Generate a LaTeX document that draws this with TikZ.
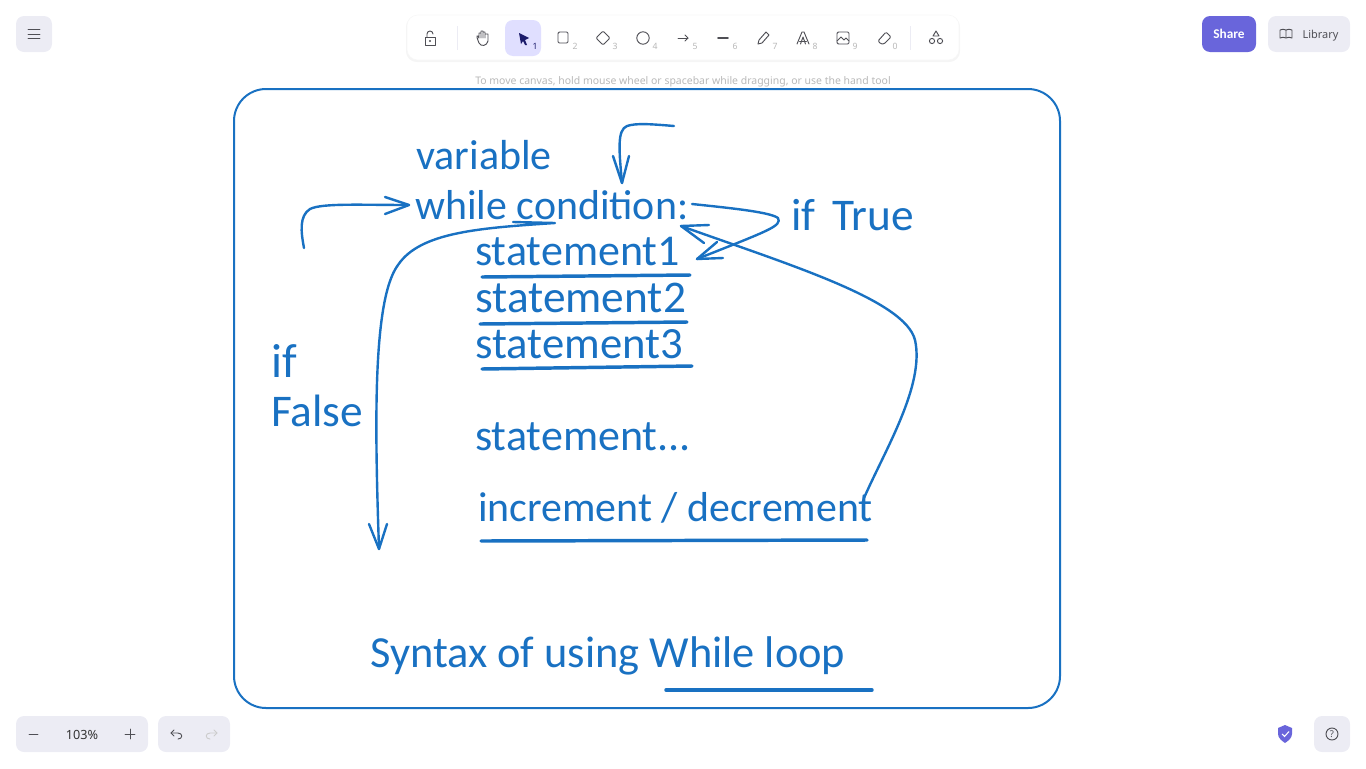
\documentclass[tikz,border=0pt]{standalone}
\usepackage{fontspec}
\setmainfont{Noto Sans}
\newfontfamily\handfont{Carlito}
\definecolor{inkblue}{HTML}{1971C2}
\definecolor{panelgray}{HTML}{ECECF4}
\definecolor{uigray}{HTML}{4F4F55}
\definecolor{keygray}{HTML}{B8B8B8}
\definecolor{violet}{HTML}{6965DB}
\definecolor{selectbg}{HTML}{E0DFFF}
\definecolor{pointerblue}{HTML}{1B1B6B}
\tikzset{
	hand/.style={anchor=base west,inner sep=0pt,text=inkblue,font=\handfont\fontsize{#1}{#1}\selectfont},
	stroke/.style={draw=inkblue,line width=1.8pt,line cap=round,line join=round},
	underl/.style={draw=inkblue,line width=2.6pt,line cap=round},
	uibtn/.style={fill=panelgray,rounded corners=6pt},
	icon/.style={draw=uigray,line width=0.7pt,line cap=round,line join=round},
	keynum/.style={text=keygray,font=\fontsize{6.5}{7}\selectfont,inner sep=0pt}
}
\begin{document}
\begin{tikzpicture}[x=0.75pt,y=-0.75pt]
	\useasboundingbox (0,0) rectangle (1366,768);
	% frame
	\draw [draw=inkblue,line width=1.5pt,rounded corners=24pt] (234,89) rectangle (1060,708);
	% texts
	\node [hand=31.5] (variable) at (416,169) {variable};
	\node [hand=31.4] (whilecond) at (415,219) {while condition:};
	\node [hand=33] (stmta) at (475,265) {statement1};
	\node [hand=34] (stmtb) at (475,312) {statement2};
	\node [hand=33.5] (stmtc) at (475,358) {statement3};
	\node [hand=33] (stmtd) at (475,450) {statement...};
	\node [hand=31.4] (incr) at (478,521) {increment / decrement};
	\node [hand=34] (iftrue) at (791,230) {if\hspace{12.5pt}True};
	\node [hand=36] (ifword) at (271,377) {if};
	\node [hand=34] (falseword) at (271,426) {False};
	\node [hand=33.3] (title) at (370,667) {Syntax of using While loop};
	% underlines
	\draw [underl] (482,277)-- (690,275);
	\draw [underl] (480,324)-- (687,322);
	\draw [underl] (482,369)-- (692,366);
	\draw [underl] (481,541)-- (867,540);
	\draw [underl] (666,690)-- (872,690);
	% arrow from variable
	\coordinate (topstart) at (674,126);
	\coordinate (toptip) at (622,183);
	\draw [stroke] (topstart) .. controls (650,124) and (636,123) .. (627,126) .. controls (617,130) and (619,150) .. (toptip);
	\draw [stroke] (613,156)-- (toptip)-- (629,156);
	% arrow into while
	\coordinate (leftstart) at (304,248);
	\coordinate (lefttip) at (409,205);
	\draw [stroke] (leftstart) .. controls (301,232) and (299,216) .. (310,209) .. controls (322,203) and (360,205) .. (lefttip);
	\draw [stroke] (385,197)-- (lefttip)-- (385,214);
	% if True
	\coordinate (truestart) at (692,204);
	\coordinate (truetip) at (697,259);
	\draw [stroke] (truestart) .. controls (730,208) and (770,212) .. (778,218) .. controls (782,226) and (770,230) .. (truetip);
	\draw [stroke] (717,242)-- (truetip)-- (723,258);
	% if False
	\coordinate (falsestart) at (555,223);
	\coordinate (falsetip) at (379,549);
	\draw [stroke] (513,222)-- (falsestart) .. controls (480,228) and (420,232) .. (398,265) .. controls (372,300) and (375,430) .. (falsetip);
	\draw [stroke] (369,524)-- (falsetip)-- (387,524);
	% loop back
	\coordinate (backstart) at (864,498);
	\coordinate (backtip) at (681,226);
	\draw [stroke] (backstart) .. controls (885,450) and (925,385) .. (915,340) .. controls (905,300) and (790,265) .. (backtip);
	\draw [stroke] (709,225)-- (backtip)-- (704,243);
	% toolbar
	\fill [black!4,rounded corners=8pt] (406,16) rectangle (960,62);
	\draw [fill=white,draw=black!3,rounded corners=8pt] (407,15) rectangle (959,60);
	\draw [draw=panelgray] (457,26)-- (457,50);
	\draw [draw=panelgray] (910,26)-- (910,50);
	\fill [selectbg,rounded corners=6pt] (505,20) rectangle (541,56);
	% lock
	\draw [icon] (425,37) rectangle (435,45);
	\draw [icon] (427,37) -- (427,34) arc (180:360:3);
	\fill [uigray] (430,41) circle (1.1);
	% hand
	\draw [icon] (479,43) .. controls (477,38) and (476,35) .. (478,36) -- (479,38) -- (479,33) -- (481,33) -- (481,38) -- (481,31) -- (483,31) -- (483,38) -- (483,32) -- (485,32) -- (485,38) -- (485,34) -- (488,34) -- (488,41) .. controls (487,46) and (481,47) .. (479,43);
	% pointer
	\fill [pointerblue] (519,33) -- (529,38) -- (525,40) -- (527,45) -- (525,45) -- (523,41) -- (521,44) -- cycle;
	% rectangle, diamond, circle
	\draw [icon,rounded corners=1pt] (558,32) rectangle (568,43);
	\draw [icon,rounded corners=1pt] (603,31) -- (610,38) -- (603,45) -- (596,38) -- cycle;
	\draw [icon] (643,38) circle (6.2);
	% arrow, line
	\draw [icon] (678,38) -- (688,38);
	\draw [icon] (685,35) -- (688,38) -- (685,41);
	\draw [icon,line width=1.2pt] (718,38) -- (728,38);
	% pencil
	\draw [icon] (758,44) -- (759,40) -- (766,32) -- (769,35) -- (762,43) -- cycle;
	% font
	\draw [icon] (797,44) -- (802,32) -- (804,32) -- (809,44);
	\draw [icon] (800.5,44) -- (803,37) -- (805.5,44);
	\draw [icon] (799.5,41) -- (806.5,41);
	% image
	\draw [icon,rounded corners=1pt] (837,32) rectangle (849,44);
	\draw [icon] (837,41) -- (841,37) -- (844,40) -- (846,38) -- (849,41);
	% eraser
	\draw [icon,rounded corners=1pt] (878,41) -- (886,32) -- (891,37) -- (884,44) -- (881,44) -- cycle;
	% library of shapes
	\draw [icon] (936,31) -- (939,36) -- (933,36) -- cycle;
	\draw [icon] (932,41) circle (2.6);
	\draw [icon] (940,41) circle (2.6);
	% key numbers
	\node [keynum,text=pointerblue] (keya) at (535,46) {1};
	\node [keynum] (keyb) at (575,46) {2};
	\node [keynum] (keyc) at (615,46) {3};
	\node [keynum] (keyd) at (655,46) {4};
	\node [keynum] (keye) at (695,46) {5};
	\node [keynum] (keyf) at (735,46) {6};
	\node [keynum] (keyg) at (775,46) {7};
	\node [keynum] (keyh) at (815,46) {8};
	\node [keynum] (keyi) at (855,46) {9};
	\node [keynum] (keyj) at (895,46) {0};
	% hint
	\node [text=keygray,inner sep=0pt,font=\fontsize{7.85}{10}\selectfont] (hint) at (683,81.5) {To move canvas, hold mouse wheel or spacebar while dragging, or use the hand tool};
	% menu button
	\fill [uibtn] (16,16) rectangle (52,52);
	\draw [icon] (28,29.5) -- (40,29.5);
	\draw [icon] (28,34) -- (40,34);
	\draw [icon] (28,38.5) -- (40,38.5);
	% share, library
	\fill [violet,rounded corners=6pt] (1202,16) rectangle (1256,52);
	\node [text=white,inner sep=0pt,anchor=base,font=\handfont\fontsize{10}{10}\selectfont\bfseries] (share) at (1229,38.5) {Share};
	\fill [uibtn] (1268,16) rectangle (1350,52);
	\node [text=uigray,inner sep=0pt,anchor=base,font=\fontsize{8.2}{10}\selectfont] (library) at (1320.5,38) {Library};
	\draw [icon] (1286,30) .. controls (1284,29) and (1282,29) .. (1280,30) -- (1280,38) .. controls (1282,37) and (1284,37) .. (1286,38) .. controls (1288,37) and (1290,37) .. (1292,38) -- (1292,30) .. controls (1290,29) and (1288,29) .. (1286,30) -- (1286,38);
	% zoom and undo
	\fill [uibtn] (16,716) rectangle (148,752);
	\draw [icon] (29,734) -- (38,734);
	\node [text=black!80,inner sep=0pt,font=\fontsize{9.5}{10}\selectfont] (zoomval) at (82,734.5) {103\%};
	\draw [icon] (125,734) -- (135,734);
	\draw [icon] (130,729) -- (130,739);
	\fill [uibtn] (158,716) rectangle (230,752);
	\draw [icon] (171,733) -- (178,733) .. controls (183,733) and (183,739) .. (178,739);
	\draw [icon] (174,730) -- (171,733) -- (174,736);
	\draw [icon,draw=black!20] (217,733) -- (210,733) .. controls (205,733) and (205,739) .. (210,739);
	\draw [icon,draw=black!20] (214,730) -- (217,733) -- (214,736);
	% shield and help
	\fill [violet] (1285,725) -- (1292,728) -- (1292,734) .. controls (1292,738) and (1288,741) .. (1285,743) .. controls (1282,741) and (1278,738) .. (1278,734) -- (1278,728) -- cycle;
	\draw [draw=white,line width=0.8pt] (1282,734) -- (1284.5,736.5) -- (1289,731.5);
	\fill [uibtn] (1314,716) rectangle (1350,752);
	\draw [icon] (1332,734) circle (6);
	\node [text=uigray,inner sep=0pt,font=\fontsize{7}{8}\selectfont\bfseries] (helpmark) at (1332,734) {?};
\end{tikzpicture}
\end{document}
